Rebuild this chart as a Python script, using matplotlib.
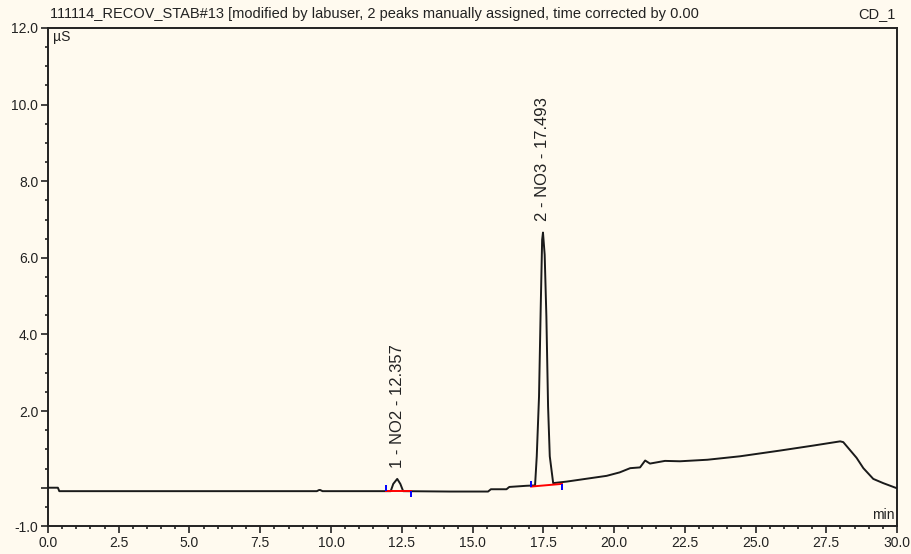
"""Chromatogram CD_1 trace (NO2 / NO3) redrawn with matplotlib."""
import matplotlib
matplotlib.use("Agg")
import matplotlib.pyplot as plt
from matplotlib.ticker import MultipleLocator, FixedLocator, FixedFormatter

# detector trace (min, uS)
time_min = [0.0, 0.35, 0.4, 9.5, 9.58, 9.62, 9.7, 11.95, 12.11, 12.2, 12.34,
            12.45, 12.55, 14.2, 15.55, 15.65, 16.2, 16.3, 16.9, 17.21, 17.27,
            17.35, 17.41, 17.46, 17.49, 17.55, 17.61, 17.67, 17.73, 17.85,
            18.33, 18.8, 19.74, 20.2, 20.57, 20.92, 21.1, 21.27, 21.8, 22.33,
            23.3, 24.45, 25.87, 27.04, 27.99, 28.1, 28.57, 28.81, 29.16,
            29.51, 29.98]
signal_us = [0.0, 0.0, -0.09, -0.09, -0.06, -0.06, -0.09, -0.09, -0.09, 0.1,
             0.23, 0.1, -0.09, -0.1, -0.1, -0.04, -0.04, 0.02, 0.05, 0.06,
             0.82, 2.38, 4.70, 6.47, 6.66, 6.08, 4.47, 2.12, 0.82, 0.12, 0.16,
             0.21, 0.31, 0.40, 0.51, 0.53, 0.71, 0.63, 0.70, 0.69, 0.73, 0.82,
             0.97, 1.10, 1.21, 1.19, 0.78, 0.51, 0.23, 0.12, -0.01]

# integration baselines: (start, end, value at start, value at end)
peak_names = ["1 - NO2 - 12.357", "2 - NO3 - 17.493"]
peak_rt = [12.34, 17.49]
peak_label_y = [0.52, 6.95]
base_start = [11.95, 17.07]
base_end = [12.83, 18.16]
base_y_start = [-0.09, 0.03]
base_y_end = [-0.09, 0.1]

title = ("111114_RECOV_STAB#13 [modified by labuser, 2 peaks manually "
         "assigned, time corrected by 0.00")
y_major = [-1, 0, 2, 4, 6, 8, 10, 12]
y_labels = ["-1.0", "", "2.0", "4.0", "6.0", "8.0", "10.0", "12.0"]
x_major = [0, 2.5, 5, 7.5, 10, 12.5, 15, 17.5, 20, 22.5, 25, 27.5, 30]

bg = "#fffaef"
plt.rcParams["font.family"] = ["Liberation Sans", "DejaVu Sans"]

fig = plt.figure(figsize=(9.12, 5.54), dpi=100, facecolor=bg)
ax = fig.add_axes([0.0526, 0.0505, 0.931, 0.899], facecolor=bg)

ax.plot(time_min, signal_us, color="#1a1a1a", lw=1.4, zorder=3)

for i in range(len(peak_names)):
    ax.plot([base_start[i], base_end[i]], [base_y_start[i], base_y_end[i]],
            color="#ff0000", lw=1.4, zorder=4)
    ax.vlines(base_start[i], base_y_start[i], base_y_start[i] + 0.15,
              color="#0000ff", lw=1.4, zorder=5)
    ax.vlines(base_end[i], base_y_end[i] - 0.15, base_y_end[i],
              color="#0000ff", lw=1.4, zorder=5)
    ax.text(peak_rt[i], peak_label_y[i], peak_names[i], rotation=90,
            ha="center", va="bottom", fontsize=12, color="#222222")

ax.set_xlim(0, 30)
ax.set_ylim(-1, 12)
ax.set_xticks(x_major)
ax.set_xticklabels([f"{v:.1f}" for v in x_major])
ax.xaxis.set_minor_locator(MultipleLocator(0.5))
ax.yaxis.set_major_locator(FixedLocator(y_major))
ax.yaxis.set_major_formatter(FixedFormatter(y_labels))
ax.yaxis.set_minor_locator(MultipleLocator(0.5))
ax.tick_params(which="major", length=5, width=1.2, labelsize=10,
               colors="#222222", pad=2)
ax.tick_params(which="minor", length=2.5, width=1.2, colors="#222222")
for s in ax.spines.values():
    s.set_linewidth(1.4)
    s.set_color("#222222")

fig.text(50 / 912, 1 - 14 / 554, title, ha="left", va="center",
         fontsize=10.5, color="#222222")
fig.text(896 / 912, 1 - 14 / 554, "CD_1", ha="right", va="center",
         fontsize=10.5, color="#222222")
ax.text(0.006, 0.982, "µS", transform=ax.transAxes, ha="left", va="center",
        fontsize=10, color="#222222")
ax.text(0.997, 0.022, "min", transform=ax.transAxes, ha="right",
        va="center", fontsize=10, color="#222222")

fig.savefig("out.png", dpi=100, facecolor=bg)
